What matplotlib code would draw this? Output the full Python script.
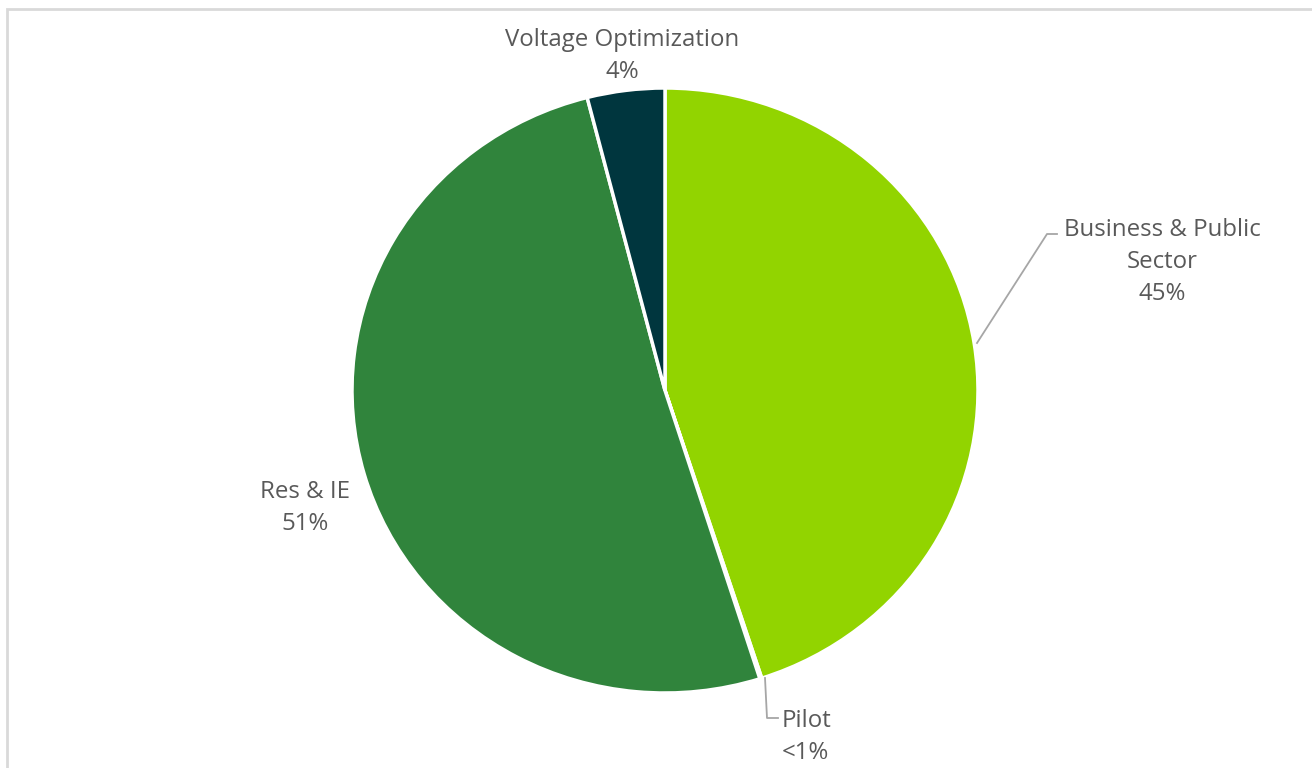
import matplotlib.pyplot as plt
from matplotlib.patches import Rectangle

labels = ['Business & Public\nSector', 'Pilot', 'Res & IE', 'Voltage Optimization']
values = [45.0, 0.1, 50.9, 4.0]
pct_text = ['45%', '<1%', '51%', '4%']
colors = ['#92D400', '#A5A5A5', '#30843C', '#00363E']

W, H = 1312, 768
fig = plt.figure(figsize=(W / 100, H / 100), dpi=100)
fig.patches.append(Rectangle((7 / W, -0.1), 1.2, (H - 9) / H + 0.1, transform=fig.transFigure,
                             fill=False, edgecolor='#D9D9D9', linewidth=2))

# pie occupies pixel box x 352..978, y 88..693
cx, cy, rx, ry = 665, 390.5, 313, 302.5
ax = fig.add_axes([(cx - rx) / W, (H - cy - ry) / H, 2 * rx / W, 2 * ry / H])
ax.pie(values, colors=colors, startangle=90, counterclock=False,
       wedgeprops=dict(edgecolor='white', linewidth=2.5))
ax.set_aspect('auto')
ax.set_xlim(-1, 1)
ax.set_ylim(-1, 1)
ax.axis('off')


def d(px, py):
    return (px - cx) / rx, (cy - py) / ry


txt = dict(fontsize=17.3, color='#595959', family=['Open Sans', 'DejaVu Sans'],
           ha='center', va='center', linespacing=1.45, clip_on=False)

ax.text(*d(622, 56), labels[3] + '\n' + pct_text[3], **txt)
ax.text(*d(1162, 262), labels[0] + '\n' + pct_text[0], **txt)
ax.text(*d(305, 508), labels[2] + '\n' + pct_text[2], **txt)
ax.text(*d(782, 737), labels[1] + '\n' + pct_text[1], **dict(txt, ha='left'))

# leader lines
lc = dict(color='#A6A6A6', linewidth=1.3, clip_on=False)
p = [d(977, 343), d(1047, 234), d(1057, 234)]
ax.plot([q[0] for q in p], [q[1] for q in p], **lc)
p = [d(765, 678), d(767, 718), d(778, 718)]
ax.plot([q[0] for q in p], [q[1] for q in p], **lc)

fig.savefig('out.png', dpi=100)
